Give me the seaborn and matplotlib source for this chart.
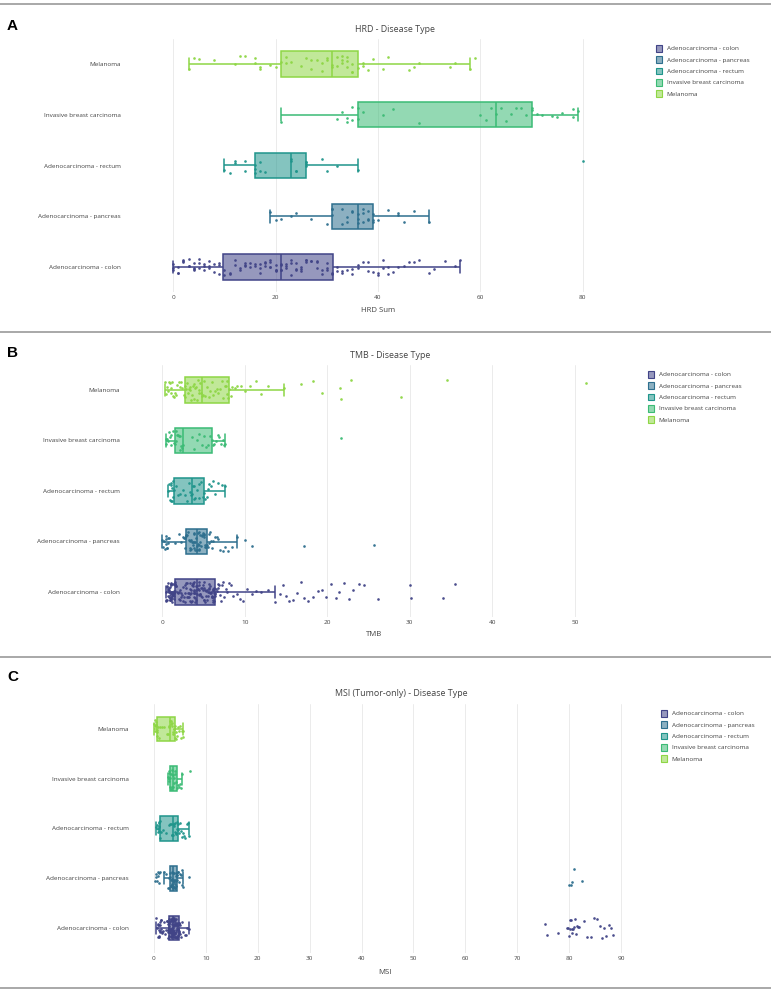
import numpy as np
import pandas as pd
import matplotlib
matplotlib.use("Agg")
import matplotlib.pyplot as plt
from matplotlib.colors import to_rgba
from matplotlib.patches import Patch
from matplotlib.lines import Line2D
import seaborn as sns

np.random.seed(3)

categories = ["Melanoma", "Invasive breast carcinoma", "Adenocarcinoma - rectum",
              "Adenocarcinoma - pancreas", "Adenocarcinoma - colon"]
legend_order = ["Adenocarcinoma - colon", "Adenocarcinoma - pancreas", "Adenocarcinoma - rectum",
                "Invasive breast carcinoma", "Melanoma"]

# ---------------- HRD Sum ----------------
hrd_colon = [0,0,0,1,1,1,2,2,2,3,3,3,4,4,4,4,5,5,5,6,6,6,7,7,7,8,8,9,9,9,
             10,10,11,11,12,12,13,13,14,14,14,15,15,16,16,17,17,17,18,18,18,19,19,19,19,20,20,20,20,21,
             21,21,21,22,22,22,23,23,23,24,24,24,25,25,25,26,26,26,27,27,28,28,28,29,29,30,30,30,31,31,
             32,32,33,33,34,35,35,36,36,37,38,38,39,40,40,41,41,42,42,43,44,45,46,47,48,50,51,53,55,56]
hrd_pancreas = [19,20,21,23,24,27,30,31,31,31,33,33,34,34,35,35,36,36,36,37,37,37,38,38,38,
                39,39,39,40,42,44,44,45,47,50]
hrd_rectum = [10,11,12,12,14,14,16,16,16,17,17,18,23,23,24,24,26,26,26,26,29,30,32,36,80]
hrd_breast = [21,32,33,34,34,35,35,36,36,37,41,43,48,60,61,62,63,64,65,66,67,68,69,70,70,
              71,72,74,75,76,78,78,79]
hrd_melanoma = [3,4,5,8,12,13,14,16,16,17,17,19,20,
                21,22,22,23,25,26,27,27,28,29,29,30,30,31,
                31,32,32,33,33,33,34,34,34,35,35,35,36,
                37,37,38,39,41,42,46,47,48,54,55,58,59]

# ---------------- TMB ----------------
tmb_colon = [0.4,0.5,0.5,0.6,0.6,0.6,0.7,0.7,0.7,0.7,0.8,0.8,0.8,0.8,0.8,0.9,0.9,0.9,0.9,0.9,
             1.0,1.0,1.0,1.0,1.0,1.1,1.1,1.1,1.1,1.1,1.2,1.2,1.2,1.2,1.2,1.3,1.3,1.3,1.3,1.3,
             1.4,1.4,1.4,1.4,1.4,1.5,1.5,1.5,1.5,1.5,
             1.6,1.7,1.8,1.9,2.0,2.0,2.1,2.2,2.3,2.3,2.4,2.5,2.5,2.6,2.7,2.7,2.8,2.9,2.9,3.0,
             3.0,3.1,3.1,3.2,3.2,3.3,3.3,3.4,3.4,3.5,3.5,3.5,3.6,3.6,3.7,3.7,3.7,3.8,3.8,3.8,
             3.9,3.9,3.9,4.0,4.0,4.0,4.1,4.1,4.1,4.2,
             4.2,4.3,4.3,4.4,4.4,4.5,4.5,4.6,4.6,4.7,4.7,4.8,4.8,4.9,4.9,5.0,5.0,5.1,5.1,5.2,
             5.2,5.3,5.3,5.4,5.4,5.5,5.5,5.6,5.6,5.7,5.7,5.8,5.8,5.9,5.9,6.0,6.0,6.0,6.1,6.1,
             6.1,6.2,6.2,6.2,6.3,6.3,6.3,6.4,6.4,6.4,
             6.5,6.6,6.7,6.8,6.9,7.0,7.1,7.2,7.4,7.5,7.7,7.9,8.1,8.3,8.6,9.0,9.4,9.8,10.3,10.9,
             11.4,12.0,12.8,13.6,
             14.3,14.6,15.0,15.4,15.9,16.3,16.8,17.2,17.7,18.3,18.9,19.4,19.9,20.5,21.0,21.4,
             22.0,22.6,23.1,23.8,24.5,26.2,30.0,30.1,34.0,35.5]
tmb_pancreas = [0.0,0.1,0.2,0.3,0.4,0.5,0.5,0.6,0.6,0.7,0.7,0.8,1.5,2.0,2.3,2.5,2.6,2.7,2.8,2.9,
                2.9,3.0,3.1,3.2,3.3,3.3,3.4,3.5,3.5,3.6,3.7,3.7,3.8,3.8,3.9,3.9,4.0,4.0,4.1,4.2,
                4.2,4.3,4.3,4.4,4.4,4.5,4.5,4.6,4.6,4.7,4.8,4.8,4.9,5.0,5.0,5.1,5.2,5.2,5.3,5.4,
                5.5,5.6,5.7,5.8,5.9,6.0,6.2,6.4,6.6,6.8,7.0,7.3,7.6,8.0,8.5,9.0,10.0,10.9,17.2,25.6]
tmb_rectum = [0.7,0.8,0.9,1.0,1.0,1.1,1.2,1.2,1.3,1.3,1.4,
              1.6,1.9,2.2,2.5,2.8,3.0,3.2,3.4,3.5,3.6,
              3.7,3.8,3.9,4.0,4.2,4.4,4.5,4.7,4.9,5.0,
              5.2,5.4,5.5,5.7,5.9,6.1,6.4,6.8,7.2,7.6]
tmb_breast = [0.4,0.5,0.6,0.7,0.8,0.9,1.0,1.1,1.3,1.4,1.55,
              1.6,1.7,1.8,1.9,2.0,2.1,2.2,2.3,2.4,2.45,
              3.6,3.9,4.2,4.5,4.8,5.0,5.3,5.5,5.8,6.0,
              6.1,6.3,6.5,6.7,6.9,7.1,7.3,7.5,7.65,21.6]
tmb_melanoma = [0.36,0.5,0.6,0.7,0.8,0.9,1.0,1.1,1.2,1.3,1.4,1.5,1.6,1.8,2.0,2.1,2.3,2.4,2.6,2.7,2.8,
                2.9,3.0,3.1,3.2,3.3,3.4,3.5,3.6,3.7,3.8,3.9,4.0,4.1,4.2,4.3,4.4,4.5,4.6,4.7,4.8,
                4.9,5.0,5.2,5.4,5.6,5.8,6.0,6.2,6.4,6.6,6.8,7.0,7.2,7.4,7.6,7.7,7.8,7.9,8.0,8.1,
                8.3,8.5,8.8,9.1,9.5,10.0,10.6,11.3,12.0,12.8,14.8,
                16.8,18.3,19.3,21.5,21.7,22.9,28.9,34.5,51.3]

# ---------------- MSI ----------------
msi_colon = [0.5,0.6,0.7,0.8,0.8,0.9,0.9,1.0,1.0,1.1,1.1,1.2,1.2,1.3,1.3,1.4,1.5,1.6,1.8,2.0,
             2.2,2.4,2.5,2.6,2.7,2.7,2.8,2.8,2.8,2.9,2.9,2.9,2.9,3.0,3.0,3.0,3.0,3.0,3.0,3.0,
             3.0,3.1,3.1,3.1,3.1,3.2,3.2,3.2,3.2,3.3,3.3,3.3,3.3,3.4,3.4,3.4,3.4,3.4,3.5,3.5,
             3.5,3.5,3.5,3.6,3.6,3.6,3.6,3.6,3.6,3.7,3.7,3.7,3.7,3.7,3.7,3.7,3.7,3.7,3.7,3.7,
             3.7,3.8,3.8,3.8,3.8,3.9,3.9,3.9,3.9,4.0,4.0,4.0,4.0,4.1,4.1,4.1,4.2,4.2,4.2,4.3,
             4.3,4.3,4.4,4.4,4.4,4.5,4.5,4.5,4.6,4.6,4.6,4.7,4.7,4.7,4.7,4.8,4.8,4.8,4.8,4.8,
             4.9,5.0,5.1,5.3,5.5,5.7,5.9,6.1,6.4,6.7,
             75.3,75.8,77.9,79.6,79.8,80.0,80.1,80.2,80.3,80.5,80.6,80.8,81.0,81.2,81.3,81.5,
             81.7,82.0,82.8,83.5,84.2,84.8,85.3,85.9,86.4,86.8,87.1,87.6,88.0,88.5]
msi_pancreas = [0.3,0.4,0.5,0.6,0.7,0.8,0.9,1.0,1.1,2.0,2.4,2.7,2.9,3.0,3.1,
                3.1,3.2,3.2,3.3,3.3,3.4,3.4,3.5,3.5,3.5,3.6,3.6,3.6,3.7,3.7,
                3.7,3.8,3.8,3.9,3.9,4.0,4.0,4.1,4.1,4.2,4.2,4.3,4.3,4.4,4.4,
                4.5,4.6,4.7,4.8,5.0,5.2,5.4,5.5,5.7,6.7,80.0,80.3,80.6,81.0,82.5]
msi_rectum = [0.5,0.6,0.7,0.8,0.9,0.9,1.0,1.0,1.0,1.1,1.1,
              1.3,1.8,2.4,2.9,3.1,3.3,3.4,3.5,3.6,3.7,
              3.8,3.9,4.0,4.1,4.2,4.3,4.4,4.5,4.6,4.7,
              4.8,5.0,5.2,5.4,5.6,5.8,6.0,6.3,6.5,6.7]
msi_breast = [2.8,2.9,2.9,3.0,3.0,3.1,3.1,3.2,3.3,3.4,3.5,3.6,3.7,3.8,3.9,4.0,4.1,4.2,
              4.4,4.6,4.8,5.0,5.2,5.4,6.9]
msi_melanoma = [0.1,0.2,0.3,0.3,0.4,0.4,0.5,0.5,0.6,0.6,0.6,
                0.8,1.0,1.2,1.5,2.0,2.5,2.8,2.9,3.0,3.1,
                3.2,3.3,3.4,3.5,3.6,3.7,3.8,3.9,4.0,4.1,
                4.2,4.3,4.5,4.7,4.9,5.1,5.3,5.5,5.6,5.7]

hrd_ticks = [0, 20, 40, 60, 80]
tmb_ticks = [0, 10, 20, 30, 40, 50]
msi_ticks = [0, 10, 20, 30, 40, 50, 60, 70, 80, 90]

panels = [
    dict(letter="A", title="HRD - Disease Type", xlabel="HRD Sum", ticks=hrd_ticks,
         data={"Adenocarcinoma - colon": hrd_colon, "Adenocarcinoma - pancreas": hrd_pancreas,
               "Adenocarcinoma - rectum": hrd_rectum, "Invasive breast carcinoma": hrd_breast,
               "Melanoma": hrd_melanoma},
         zero=173.2, ppu=5.12, left=125, right=610, top=38.6, bottom=292.4, jit=0.16,
         title_xy=(395, 29), letter_y=26, label_x=378, label_y=311, leg=(656, 45)),
    dict(letter="B", title="TMB - Disease Type", xlabel="TMB", ticks=tmb_ticks,
         data={"Adenocarcinoma - colon": tmb_colon, "Adenocarcinoma - pancreas": tmb_pancreas,
               "Adenocarcinoma - rectum": tmb_rectum, "Invasive breast carcinoma": tmb_breast,
               "Melanoma": tmb_melanoma},
         zero=162.3, ppu=8.25, left=124, right=610, top=364.75, bottom=617.25, jit=0.2,
         title_xy=(390, 355), letter_y=353, label_x=374, label_y=635, leg=(648, 371)),
    dict(letter="C", title="MSI (Tumor-only) - Disease Type", xlabel="MSI", ticks=msi_ticks,
         data={"Adenocarcinoma - colon": msi_colon, "Adenocarcinoma - pancreas": msi_pancreas,
               "Adenocarcinoma - rectum": msi_rectum, "Invasive breast carcinoma": msi_breast,
               "Melanoma": msi_melanoma},
         zero=153.9, ppu=5.19, left=133, right=640, top=704.1, bottom=952.9, jit=0.2,
         title_xy=(401, 694), letter_y=677, label_x=385, label_y=972, leg=(661, 710)),
]

cmap = matplotlib.colormaps["viridis"]
colors = {"Adenocarcinoma - colon": cmap(0.2), "Adenocarcinoma - pancreas": cmap(0.36),
          "Adenocarcinoma - rectum": cmap(0.52), "Invasive breast carcinoma": cmap(0.68),
          "Melanoma": cmap(0.83)}

sns.set_theme(style="white")
plt.rcParams["font.family"] = ["Open Sans", "DejaVu Sans"]

W, H = 771, 991
fig = plt.figure(figsize=(W / 100, H / 100), dpi=100)

def fx(px):
    return px / W

def fy(py):
    return 1 - py / H

tick_fs = 4.6
txt_col = "#444444"

for p in panels:
    ax = fig.add_axes([fx(p["left"]), fy(p["bottom"]), fx(p["right"] - p["left"]),
                       (p["bottom"] - p["top"]) / H])
    rows = []
    for cat, vals in p["data"].items():
        for v in vals:
            rows.append((cat, v))
    df = pd.DataFrame(rows, columns=["cat", "val"])
    for cat in legend_order:
        col = colors[cat]
        sub = df[df["cat"] == cat]
        n_before = len(ax.patches)
        sns.boxplot(data=sub, x="val", y="cat", order=categories, color=col, linecolor=col,
                    linewidth=1.1, width=0.5, whis=1.5, showfliers=False, ax=ax)
        for patch in ax.patches[n_before:]:
            patch.set_facecolor(to_rgba(col, 0.55))
            patch.set_edgecolor(col)
        sns.stripplot(data=sub, x="val", y="cat", order=categories, color=col, size=1.9,
                      jitter=p["jit"], linewidth=0, alpha=0.95, ax=ax, zorder=5)
    xmin = (p["left"] - p["zero"]) / p["ppu"]
    xmax = (p["right"] - p["zero"]) / p["ppu"]
    ax.set_xlim(xmin, xmax)
    ax.set_ylim(4.5, -0.5)
    ax.set_xticks(p["ticks"])
    ax.set_xticklabels([str(t) for t in p["ticks"]])
    for t in p["ticks"]:
        ax.axvline(t, color="#ebebeb", lw=0.7, zorder=0)
    for s in ax.spines.values():
        s.set_visible(False)
    ax.tick_params(axis="both", length=0, labelsize=tick_fs, colors=txt_col, pad=2)
    ax.tick_params(axis="y", pad=3)
    ax.set_ylabel("")
    ax.set_xlabel("")
    fig.text(fx(p["label_x"]), fy(p["label_y"]),
             p["xlabel"], ha="center", va="center", fontsize=5.6, color=txt_col)
    fig.text(fx(p["title_xy"][0]), fy(p["title_xy"][1]), p["title"], ha="center", va="center",
             fontsize=6.4, color=txt_col)
    fig.text(fx(7), fy(p["letter_y"]), p["letter"], ha="left", va="center", fontsize=11,
             fontweight="bold", family=["Liberation Sans", "DejaVu Sans"], color="black")
    handles = [Patch(facecolor=to_rgba(colors[c], 0.55), edgecolor=colors[c], linewidth=0.8, label=c)
               for c in legend_order]
    fig.legend(handles=handles, loc="upper left", bbox_to_anchor=(fx(p["leg"][0]), fy(p["leg"][1])),
               frameon=False, fontsize=tick_fs, handlelength=0.9, handleheight=1.2,
               handletextpad=0.8, labelspacing=0.75, borderpad=0, borderaxespad=0,
               labelcolor=txt_col)

for yl in [4, 332, 657, 988]:
    fig.add_artist(Line2D([0, 1], [fy(yl), fy(yl)], transform=fig.transFigure,
                          color="#9a9a9a", lw=1.2))

fig.savefig("out.png", dpi=100)
